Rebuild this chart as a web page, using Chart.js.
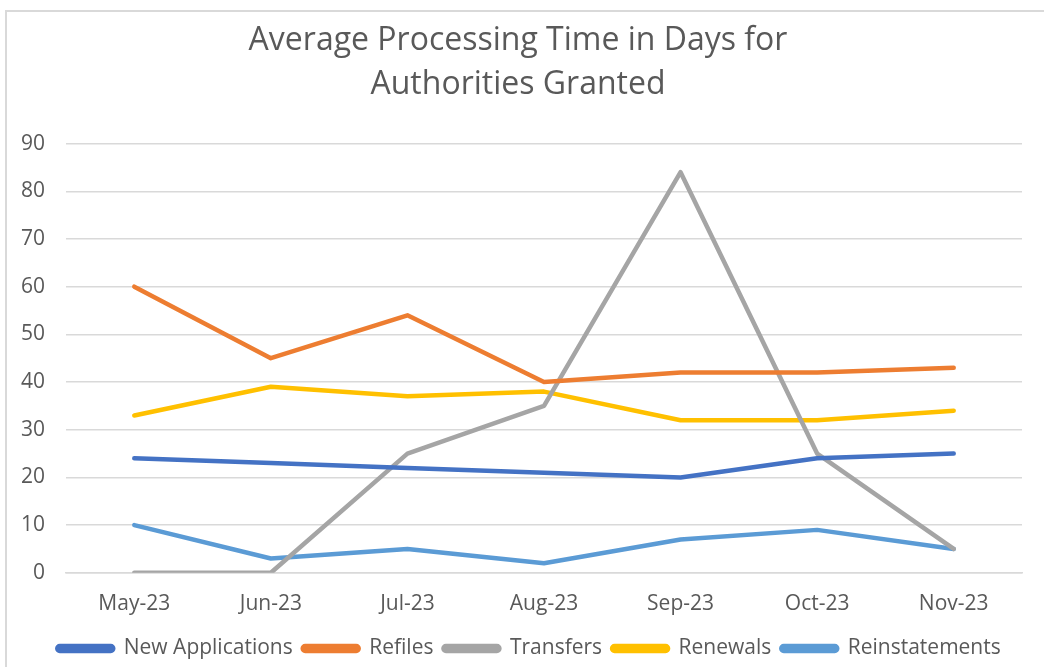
<!DOCTYPE html>
<html>
<head>
<meta charset="utf-8">
<script src="https://cdn.jsdelivr.net/npm/chart.js@4"></script>
<style>
  body { margin: 0; background: #fff; }
  #frame {
    position: absolute; left: 5px; top: 10px; width: 1060px; height: 680px;
    border: 2px solid #d9d9d9; box-sizing: border-box;
  }
  #wrap { position: absolute; left: 0; top: 0; width: 1044px; height: 667px; }
</style>
</head>
<body>
<div id="frame"></div>
<div id="wrap"><canvas id="Chart"></canvas></div>
<script>
// Months on the x axis
const months = ['May-23', 'Jun-23', 'Jul-23', 'Aug-23', 'Sep-23', 'Oct-23', 'Nov-23'];

// Average processing days per authority type
const newApplications = [24, 23, 22, 21, 20, 24, 25];
const refiles = [60, 45, 54, 40, 42, 42, 43];
const transfers = [0, 0, 25, 35, 84, 25, 5];
const renewals = [33, 39, 37, 38, 32, 32, 34];
const reinstatements = [10, 3, 5, 2, 7, 9, 5];

const titleLines = ['Average Processing Time in Days for', 'Authorities Granted'];

const fontFamily = '"Open Sans", "Liberation Sans", sans-serif';
const textColor = '#595959';

function series(label, values, color) {
  return {
    label: label,
    data: values,
    borderColor: color,
    backgroundColor: color,
    borderWidth: 4.5,
    pointRadius: 0,
    tension: 0,
    borderCapStyle: 'round',
    borderJoinStyle: 'round'
  };
}

const data = {
  labels: months,
  datasets: [
    series('New Applications', newApplications, '#4472C4'),
    series('Refiles', refiles, '#ED7D31'),
    series('Transfers', transfers, '#A5A5A5'),
    series('Renewals', renewals, '#FFC000'),
    series('Reinstatements', reinstatements, '#5B9BD5')
  ]
};

// nudge the legend a bit to the right, like the original
const legendShift = {
  id: 'legendShift',
  afterLayout(chart) {
    chart.legend.left += 11;
    chart.legend.right += 11;
  }
};

const config = {
  type: 'line',
  data,
  plugins: [legendShift],
  options: {
    responsive: true,
    maintainAspectRatio: false,
    animation: false,
    // left padding shifts title centre to match, y axis width keeps plot edge at 66
    layout: { padding: { left: 14, right: 22, top: 0, bottom: -2 } },
    plugins: {
      title: {
        display: true,
        text: titleLines,
        color: textColor,
        font: { family: fontFamily, size: 32, weight: 'normal', lineHeight: 1.4 },
        padding: { top: 18, bottom: 36 }
      },
      legend: {
        position: 'bottom',
        labels: {
          color: textColor,
          font: { family: fontFamily, size: 21 },
          boxWidth: 56,
          boxHeight: 5,
          padding: 10,
          useBorderRadius: true,
          borderRadius: 2.5
        }
      },
      tooltip: { enabled: false }
    },
    scales: {
      x: {
        offset: true,
        grid: { display: false },
        border: { color: '#d9d9d9', width: 1.5 },
        ticks: {
          color: textColor,
          font: { family: fontFamily, size: 21 },
          padding: 11
        }
      },
      y: {
        min: 0,
        max: 90,
        afterFit(scale) { scale.width = 52; },
        grid: { color: '#d9d9d9', lineWidth: 1.5, drawTicks: false },
        border: { display: false },
        ticks: {
          stepSize: 10,
          color: textColor,
          font: { family: fontFamily, size: 21 },
          padding: 21
        }
      }
    }
  }
};

const spChart = new Chart(document.getElementById('Chart'), config);
</script>
</body>
</html>
